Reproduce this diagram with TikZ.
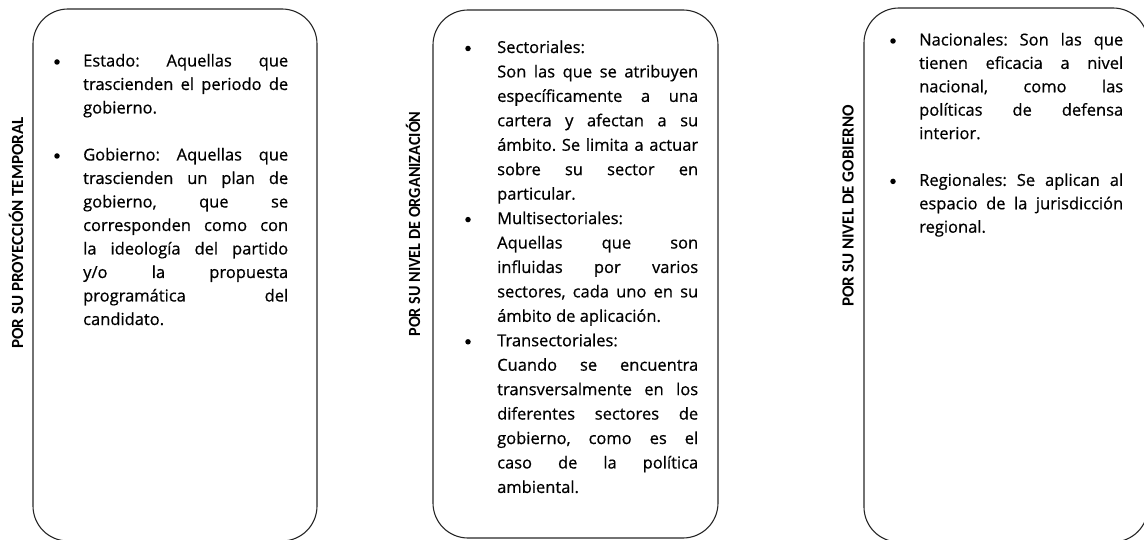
\documentclass[tikz,border=0pt]{standalone}
\usepackage{fontspec}
\setmainfont{Open Sans}
\newfontfamily\bodyfont[FakeBold=0.6]{Open Sans}
\newfontfamily\lblfont{Carlito}
\newcommand\jline[2]{\makebox[#1][s]{#2}}
\frenchspacing
\begin{document}
\begin{tikzpicture}[x=1pt,y=-1pt,
  box/.style={draw=black!85, line width=1.1pt, rounded corners=35pt},
  ln/.style={anchor=base west, inner sep=0pt, text=black, font=\bodyfont\frenchspacing\fontsize{16.5}{19}\selectfont},
  bul/.style={circle, fill=black, inner sep=0pt, minimum size=5.5pt},
  lbl/.style={rotate=90, inner sep=0pt, text=black, font=\lblfont\bfseries\fontsize{17}{20}\selectfont}]
\useasboundingbox (0,0) rectangle (1144,540);
\begin{scope}
\clip (0,0) rectangle (1144,540);
\draw[box] (33,9) rectangle (317,541);
\draw[box] (433,10) rectangle (718,538);
\draw[box] (864,8) rectangle (1148,542);
\end{scope}
% labels
\node[lbl] (l1) at (16,233) {POR SU PROYECCIÓN TEMPORAL};
\node[lbl] (l2) at (413,224) {\scalebox{0.95}[1]{POR SU NIVEL DE ORGANIZACIÓN}};
\node[lbl] (l3) at (848,206) {POR SU NIVEL DE GOBIERNO};
% box 1: baseline 66.5 + 23.5k, left 83, width 205
\node[bul] (b1a) at (57,62) {};
\node[ln] (t1a) at (83,66.5) {\jline{205pt}{Estado: Aquellas que}};
\node[ln] (t1b) at (83,90) {\jline{205pt}{trascienden el periodo de}};
\node[ln] (t1c) at (83,113.5) {gobierno.};
\node[bul] (b1b) at (57,156) {};
\node[ln] (t1d) at (83,160.5) {\jline{205pt}{Gobierno: Aquellas que}};
\node[ln] (t1e) at (83,184) {\jline{205pt}{trascienden un plan de}};
\node[ln] (t1f) at (83,207.5) {\jline{205pt}{gobierno, que se}};
\node[ln] (t1g) at (83,231) {\jline{205pt}{corresponden como con}};
\node[ln] (t1h) at (83,254.5) {\jline{205pt}{la ideología del partido}};
\node[ln] (t1i) at (83,278) {\jline{205pt}{y/o la propuesta}};
\node[ln] (t1j) at (83,301.5) {\jline{205pt}{programática del}};
\node[ln] (t1k) at (83,325) {candidato.};
% box 2: baseline 53 + 24.44k, left 497, width 201
\node[bul] (b2a) at (468,48.5) {};
\node[ln] (t2a) at (497,53) {Sectoriales:};
\node[ln] (t2b) at (497,77.44) {\jline{201pt}{Son las que se atribuyen}};
\node[ln] (t2c) at (497,101.88) {\jline{201pt}{específicamente a una}};
\node[ln] (t2d) at (497,126.32) {\jline{201pt}{cartera y afectan a su}};
\node[ln] (t2e) at (497,150.76) {\jline{201pt}{ámbito. Se limita a actuar}};
\node[ln] (t2f) at (497,175.2) {\jline{201pt}{sobre su sector en}};
\node[ln] (t2g) at (497,199.64) {particular.};
\node[bul] (b2b) at (468,219.6) {};
\node[ln] (t2h) at (497,224.08) {Multisectoriales:};
\node[ln] (t2i) at (497,248.52) {\jline{201pt}{Aquellas que son}};
\node[ln] (t2j) at (497,272.96) {\jline{201pt}{influidas por varios}};
\node[ln] (t2k) at (497,297.4) {\jline{201pt}{sectores, cada uno en su}};
\node[ln] (t2l) at (497,321.84) {ámbito de aplicación.};
\node[bul] (b2c) at (468,341.8) {};
\node[ln] (t2m) at (497,346.28) {Transectoriales:};
\node[ln] (t2n) at (497,370.72) {\jline{201pt}{Cuando se encuentra}};
\node[ln] (t2o) at (497,395.16) {\jline{201pt}{transversalmente en los}};
\node[ln] (t2p) at (497,419.6) {\jline{201pt}{diferentes sectores de}};
\node[ln] (t2q) at (497,444.04) {\jline{201pt}{gobierno, como es el}};
\node[ln] (t2r) at (497,468.48) {\jline{201pt}{caso de la política}};
\node[ln] (t2s) at (497,492.92) {ambiental.};
% box 3: baseline 45.5 + 23.4k, left 919, width 204
\node[bul] (b3a) at (893,41) {};
\node[ln] (t3a) at (919,45.5) {\jline{204pt}{Nacionales: Son las que}};
\node[ln] (t3b) at (919,68.9) {\jline{204pt}{tienen eficacia a nivel}};
\node[ln] (t3c) at (919,92.3) {\jline{204pt}{nacional, como las}};
\node[ln] (t3d) at (919,115.7) {\jline{204pt}{políticas de defensa}};
\node[ln] (t3e) at (919,139.1) {interior.};
\node[bul] (b3b) at (893,181.4) {};
\node[ln] (t3f) at (919,185.9) {\jline{204pt}{Regionales: Se aplican al}};
\node[ln] (t3g) at (919,209.3) {\jline{204pt}{espacio de la jurisdicción}};
\node[ln] (t3h) at (919,232.7) {regional.};
\end{tikzpicture}
\end{document}
